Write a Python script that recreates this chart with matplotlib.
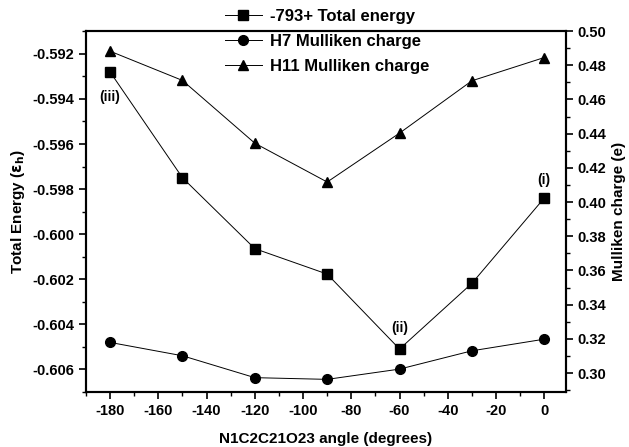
import numpy as np
import matplotlib
matplotlib.use("Agg")
import matplotlib.pyplot as plt
from matplotlib.ticker import MultipleLocator, FormatStrFormatter

plt.rcParams['font.family'] = ['Liberation Sans', 'DejaVu Sans']
plt.rcParams['font.weight'] = 'bold'
plt.rcParams['axes.unicode_minus'] = False

# data
angle = [-180, -150, -120, -90, -60, -30, 0]
total_energy = [-0.5928, -0.5975, -0.60065, -0.60178, -0.60511, -0.60219, -0.5984]
h7_charge = [0.3179, 0.3101, 0.2973, 0.2963, 0.3023, 0.3130, 0.3198]
h11_charge = [0.4882, 0.4711, 0.4344, 0.4117, 0.4403, 0.4709, 0.4845]
labels = ["-793+ Total energy", "H7 Mulliken charge", "H11 Mulliken charge"]
point_notes = [("(iii)", -180, -0.5939), ("(ii)", -60, -0.60418), ("(i)", 0, -0.5976)]

fig = plt.figure(figsize=(6.29, 4.47), dpi=100)
ax = fig.add_axes([0.1367, 0.123, 0.7631, 0.8076])
ax2 = ax.twinx()

l1, = ax.plot(angle, total_energy, 'k-', marker='s', ms=6.5, lw=0.7)
l2, = ax2.plot(angle, h7_charge, 'k-', marker='o', ms=7, lw=0.7)
l3, = ax2.plot(angle, h11_charge, 'k-', marker='^', ms=7.5, lw=0.7)

ax.set_xlim(-190, 9)
ax.set_ylim(-0.60702, -0.59098)
ax2.set_ylim(0.2889, 0.5)

ax.xaxis.set_major_locator(MultipleLocator(20))
ax.xaxis.set_minor_locator(MultipleLocator(10))
ax.yaxis.set_major_locator(MultipleLocator(0.002))
ax.yaxis.set_minor_locator(MultipleLocator(0.001))
ax.yaxis.set_major_formatter(FormatStrFormatter('%.3f'))
ax2.yaxis.set_major_locator(MultipleLocator(0.02))
ax2.yaxis.set_minor_locator(MultipleLocator(0.01))
ax2.yaxis.set_major_formatter(FormatStrFormatter('%.2f'))

for a in (ax, ax2):
    a.tick_params(which='major', length=5, width=1.2, labelsize=10.5)
    a.tick_params(which='minor', length=3, width=1)
    for s in a.spines.values():
        s.set_linewidth(1.5)
    for t in a.get_yticklabels() + a.get_xticklabels():
        t.set_fontweight('bold')

ax.set_xlabel("N1C2C21O23 angle (degrees)", fontsize=11, fontweight='bold', labelpad=10)
ax.set_ylabel(r"Total Energy ($\mathbf{\epsilon_h}$)", fontsize=11, fontweight='bold', labelpad=4)
ax2.set_ylabel("Mulliken charge (e)", fontsize=11, fontweight='bold', labelpad=4)

# point annotations
for txt, x, y in point_notes:
    ax.text(x, y, txt, ha='center', va='center', fontsize=10, fontweight='bold')

fig.legend([l1, l2, l3], labels, loc='upper left', bbox_to_anchor=(0.343, 1.0),
           frameon=False, handlelength=2.2, labelspacing=0.6, handletextpad=0.5,
           prop={'weight': 'bold', 'size': 12}, borderaxespad=0.15)

fig.savefig("out.png", dpi=100)
